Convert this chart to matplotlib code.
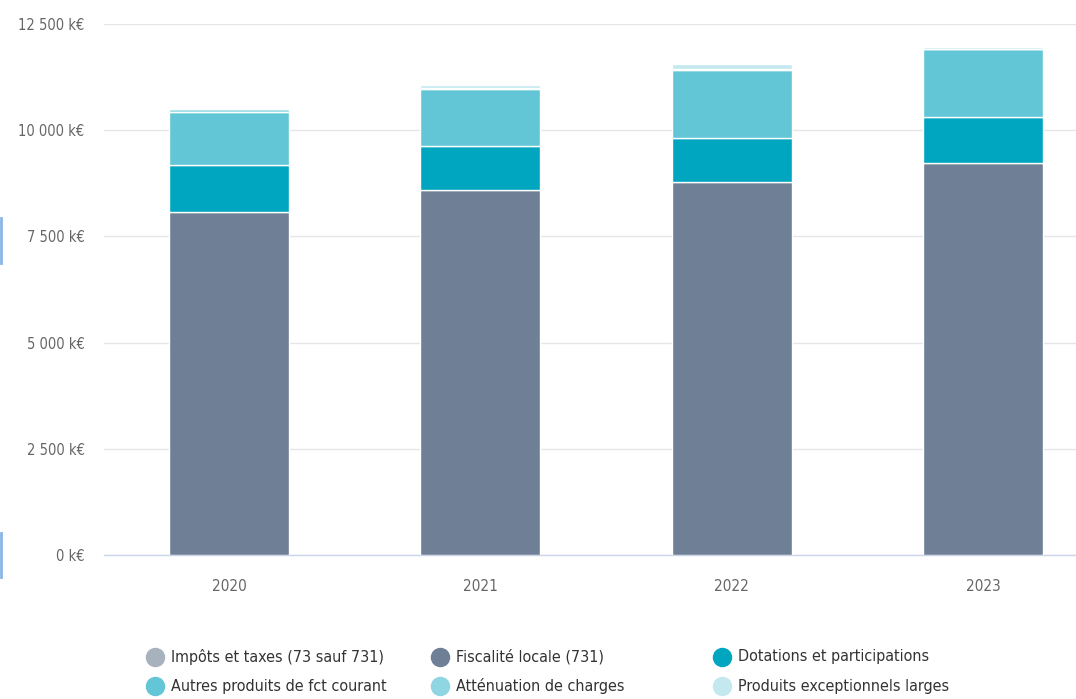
import matplotlib
matplotlib.use("Agg")
import matplotlib.pyplot as plt
from matplotlib.lines import Line2D
from matplotlib.ticker import FuncFormatter, MultipleLocator

plt.rcParams['font.family'] = ['DejaVu Sans']
plt.rcParams['font.stretch'] = 'condensed'

years = ["2020", "2021", "2022", "2023"]
series_names = [
    "Impôts et taxes (73 sauf 731)",
    "Fiscalité locale (731)",
    "Dotations et participations",
    "Autres produits de fct courant",
    "Atténuation de charges",
    "Produits exceptionnels larges",
]
impots = [0, 0, 0, 0]
fiscalite = [8080, 8590, 8770, 9220]
dotations = [1100, 1030, 1040, 1100]
autres = [1240, 1350, 1610, 1590]
attenuation = [70, 30, 30, 10]
produits = [20, 70, 110, 30]
colors = ["#a8b2bd", "#6e7f96", "#00a5c0", "#62c6d6", "#8fd6e2", "#c3e9ef"]
values = [impots, fiscalite, dotations, autres, attenuation, produits]

W, H = 1076, 699
fig = plt.figure(figsize=(W / 100, H / 100), dpi=100)
left_px, right_px, top_px, bot_px = 104, 1076, 24, 555
ax = fig.add_axes([left_px / W, 1 - bot_px / H, (right_px - left_px) / W, (bot_px - top_px) / H])

x = list(range(len(years)))
bottom = [0] * len(years)
for name, vals, c in zip(series_names, values, colors):
    ax.bar(x, vals, width=0.478, bottom=bottom, color=c, edgecolor="white", linewidth=1, zorder=3)
    bottom = [b + v for b, v in zip(bottom, vals)]

ax.set_xlim(-0.497, 3.37)
ax.set_ylim(0, 12500)
ax.yaxis.set_major_locator(MultipleLocator(2500))
ax.yaxis.set_major_formatter(FuncFormatter(lambda v, p: f"{int(v):,}".replace(",", " ") + " k€"))
ax.grid(axis="y", color="#e6e6e6", linewidth=1, zorder=0)
for s in ["top", "right", "left"]:
    ax.spines[s].set_visible(False)
ax.spines["bottom"].set_color("#ccd6eb")
ax.spines["bottom"].set_linewidth(1)
ax.set_xticks(x)
ax.set_xticklabels(years)
ax.tick_params(axis="y", length=0, pad=14, labelsize=10.5, labelcolor="#666666")
ax.tick_params(axis="x", length=0, pad=17, labelsize=11, labelcolor="#666666")

# legend, manual layout
col_x = [155, 440, 722]
row_y = [657, 686]
for i, (name, c) in enumerate(zip(series_names, colors)):
    cx = col_x[i % 3]
    cy = row_y[i // 3]
    fig.add_artist(Line2D([cx / W], [1 - cy / H], marker="o", markersize=13, color=c,
                          linestyle="none", transform=fig.transFigure))
    fig.text((cx + 16) / W, 1 - cy / H, name, fontsize=11.5, color="#333333", va="center", ha="left")

# small blue artifacts at left edge
for y0, y1 in [(218, 263), (533, 577)]:
    fig.add_artist(Line2D([1 / W, 1 / W], [1 - y0 / H, 1 - y1 / H], color="#8ab4e8", linewidth=2,
                          transform=fig.transFigure))

fig.savefig("out.png", dpi=100, facecolor="white")
